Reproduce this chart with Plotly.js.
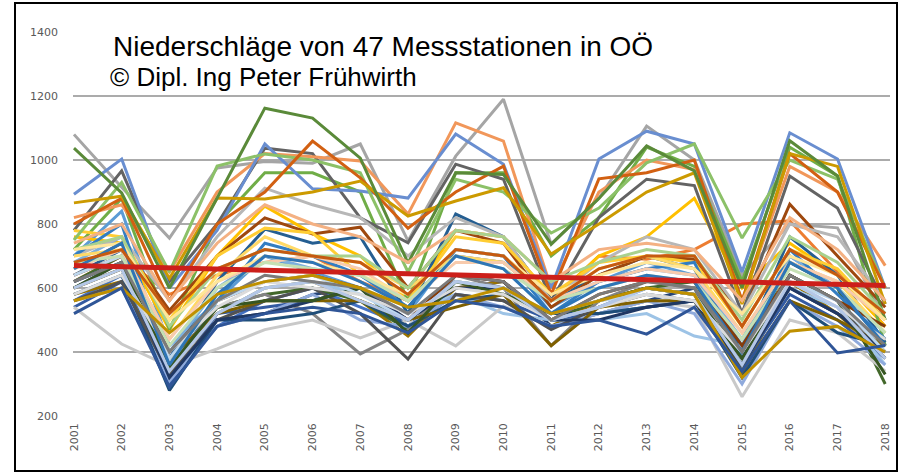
<!DOCTYPE html>
<html>
<head>
<meta charset="utf-8">
<script src="https://cdn.plot.ly/plotly-3.0.1.min.js"></script>
<style>
  html, body { margin: 0; padding: 0; background: #fff; }
  #chart { width: 900px; height: 476px; }
</style>
</head>
<body>
<div id="chart"></div>
<script>
// ---- Data ----
const years = ['2001','2002','2003','2004','2005','2006','2007','2008','2009','2010','2011','2012','2013','2014','2015','2016','2017','2018'];

const titleLine1 = 'Niederschläge von 47 Messstationen in OÖ';
const titleLine2 = '© Dipl. Ing Peter Frühwirth';

const yTicks = [200, 400, 600, 800, 1000, 1200, 1400];

const s01 = [700, 840, 420, 560, 700, 650, 600, 520, 720, 700, 540, 620, 680, 640, 420, 700, 600, 420];
const s02 = [620, 700, 580, 640, 680, 700, 620, 560, 700, 680, 560, 700, 690, 720, 800, 810, 650, 480];
const s03 = [1080, 915, 756, 975, 995, 990, 1050, 747, 1012, 1190, 737, 880, 1106, 1000, 640, 800, 788, 500];
const s04 = [760, 740, 470, 700, 856, 770, 700, 560, 780, 760, 560, 700, 760, 880, 600, 740, 640, 480];
const s05 = [560, 640, 330, 480, 560, 600, 540, 480, 600, 620, 500, 540, 600, 580, 380, 600, 520, 400];
const s06 = [720, 880, 470, 800, 960, 960, 900, 560, 960, 960, 700, 820, 1040, 980, 620, 1040, 950, 420];
const s07 = [640, 720, 380, 620, 784, 740, 760, 520, 831, 760, 560, 640, 700, 660, 400, 760, 640, 430];
const s08 = [660, 740, 530, 700, 819, 769, 790, 600, 780, 740, 540, 640, 700, 690, 520, 862, 700, 540];
const s09 = [780, 966, 620, 800, 1037, 1020, 819, 741, 987, 940, 560, 820, 940, 920, 520, 950, 850, 550];
const s10 = [580, 620, 340, 520, 600, 620, 560, 450, 600, 620, 480, 560, 600, 580, 330, 620, 520, 380];
const s11 = [600, 680, 300, 500, 520, 580, 600, 460, 640, 620, 480, 520, 560, 600, 340, 640, 560, 400];
const s12 = [620, 700, 360, 540, 580, 600, 560, 470, 620, 600, 500, 560, 600, 620, 380, 680, 600, 300];
const s13 = [680, 760, 400, 600, 700, 660, 640, 560, 700, 680, 560, 620, 660, 640, 440, 700, 600, 460];
const s14 = [820, 860, 650, 900, 1020, 1010, 997, 831, 1116, 1059, 600, 900, 1000, 970, 560, 980, 900, 670];
const s15 = [700, 760, 560, 760, 912, 860, 820, 700, 820, 760, 560, 680, 760, 720, 520, 800, 760, 560];
const s16 = [780, 760, 500, 700, 787, 772, 640, 560, 760, 740, 580, 680, 700, 680, 480, 720, 660, 500];
const s17 = [893, 1003, 600, 780, 1050, 910, 903, 881, 1081, 987, 600, 1003, 1090, 1050, 650, 1085, 1003, 600];
const s18 = [750, 930, 650, 981, 1019, 1000, 960, 650, 940, 900, 772, 850, 991, 1050, 756, 1000, 940, 600];
const s19 = [700, 800, 340, 560, 740, 700, 640, 540, 720, 700, 520, 620, 660, 680, 380, 720, 580, 440];
const s20 = [800, 880, 560, 800, 900, 1059, 944, 787, 900, 981, 580, 941, 960, 1000, 560, 1020, 900, 600];
const s21 = [600, 660, 360, 540, 580, 520, 394, 470, 640, 600, 420, 560, 620, 600, 360, 640, 560, 380];
const s22 = [866, 887, 630, 881, 878, 900, 934, 825, 872, 913, 706, 800, 900, 960, 550, 1020, 980, 550];
const s23 = [540, 620, 300, 520, 540, 560, 600, 480, 580, 560, 500, 520, 540, 560, 360, 580, 500, 380];
const s24 = [1037, 897, 600, 880, 1162, 1131, 1006, 678, 960, 955, 737, 880, 1044, 966, 600, 1060, 950, 500];
const s25 = [620, 680, 360, 520, 600, 620, 580, 520, 580, 520, 500, 500, 520, 450, 420, 600, 540, 360];
const s26 = [740, 800, 560, 740, 860, 800, 760, 680, 780, 760, 620, 720, 740, 720, 560, 820, 720, 560];
const s27 = [540, 425, 355, 410, 470, 500, 444, 500, 419, 544, 480, 520, 560, 540, 260, 500, 460, 340];
const s28 = [700, 720, 440, 640, 760, 700, 680, 600, 700, 680, 560, 660, 700, 660, 460, 680, 620, 460];
const s29 = [560, 600, 310, 480, 520, 580, 500, 480, 580, 540, 480, 520, 560, 520, 300, 560, 480, 360];
const s30 = [720, 760, 480, 660, 720, 700, 700, 600, 780, 760, 620, 680, 720, 700, 500, 760, 680, 520];
const s31 = [580, 640, 280, 500, 500, 520, 560, 480, 560, 580, 520, 520, 540, 560, 320, 560, 460, 420];
const s32 = [640, 700, 400, 560, 620, 640, 600, 500, 640, 620, 500, 580, 620, 620, 420, 640, 560, 480];
const s33 = [560, 620, 330, 500, 560, 600, 520, 378, 580, 560, 470, 540, 580, 560, 360, 600, 520, 440];
const s34 = [600, 660, 380, 520, 560, 560, 560, 500, 540, 580, 420, 540, 560, 560, 340, 560, 500, 420];
const s35 = [620, 680, 320, 500, 520, 560, 600, 500, 600, 600, 500, 500, 540, 560, 360, 600, 520, 400];
const s36 = [600, 680, 350, 540, 560, 560, 600, 460, 620, 580, 520, 560, 600, 580, 380, 640, 560, 330];
const s37 = [640, 700, 380, 560, 620, 640, 580, 500, 620, 600, 520, 560, 580, 560, 400, 620, 560, 400];
const s38 = [660, 720, 440, 620, 680, 700, 660, 560, 680, 680, 560, 620, 660, 640, 460, 680, 620, 500];
const s39 = [580, 640, 400, 540, 620, 600, 580, 520, 600, 580, 500, 540, 580, 560, 400, 620, 540, 440];
const s40 = [720, 740, 500, 620, 700, 680, 640, 580, 720, 700, 580, 640, 680, 660, 520, 700, 640, 500];
const s41 = [600, 660, 340, 520, 600, 620, 560, 500, 620, 600, 500, 540, 600, 580, 360, 620, 540, 380];
const s42 = [680, 700, 420, 600, 680, 660, 640, 560, 700, 660, 560, 600, 640, 620, 440, 660, 600, 460];
const s43 = [660, 740, 360, 580, 700, 680, 620, 540, 700, 660, 520, 600, 640, 620, 400, 680, 600, 420];
const s44 = [680, 720, 520, 660, 720, 700, 680, 580, 720, 700, 560, 660, 700, 700, 480, 720, 640, 520];
const s45 = [620, 680, 400, 560, 640, 620, 600, 520, 640, 620, 500, 580, 620, 600, 400, 640, 560, 420];
const s46 = [560, 600, 460, 580, 620, 640, 600, 540, 560, 600, 520, 560, 600, 580, 320, 465, 480, 400];
const s47 = [520, 600, 290, 480, 520, 540, 520, 460, 560, 540, 480, 500, 456, 540, 340, 560, 397, 420];

const stations = [s01,s02,s03,s04,s05,s06,s07,s08,s09,s10,s11,s12,s13,s14,s15,s16,s17,s18,s19,s20,
                  s21,s22,s23,s24,s25,s26,s27,s28,s29,s30,s31,s32,s33,s34,s35,s36,s37,s38,s39,s40,
                  s41,s42,s43,s44,s45,s46,s47];

const stationColors = ['#5B9BD5','#ED7D31','#A5A5A5','#FFC000','#4472C4','#70AD47','#255E91','#9E480E','#636363','#997300',
                       '#264478','#43682B','#7CAFDD','#F1975A','#B7B7B7','#FFCD33','#698ED0','#8CC168','#327DC2','#D26012',
                       '#848484','#CC9A00','#335AA1','#5A8A39','#9DC3E6','#F4B183','#C9C9C9','#FFD966','#8FAADC','#A9D18E',
                       '#1F4E79','#843C0C','#525252','#7F6000','#203864','#375623','#BDD7EE','#F8CBAD','#DBDBDB','#FFE699',
                       '#B4C7E7','#C5E0B4','#2E75B6','#C55A11','#7B7B7B','#BF9000','#2F5597'];

const trendYears = ['2001', '2018'];
const trendValues = [670, 608];

// ---- Layout geometry ----
const W = 900, H = 476;
const M = { l: 73, r: 10, t: 32, b: 60 };
const plotW = W - M.l - M.r, plotH = H - M.t - M.b;
const px2x = px => (px - M.l) / plotW;
const px2y = py => 1 - (py - M.t) / plotH;

const traces = stations.map((vals, i) => ({
  type: 'scatter', mode: 'lines',
  x: years, y: vals,
  name: 'Station ' + (i + 1),
  line: { color: stationColors[i], width: 3 },
  hoverinfo: 'skip'
}));
traces.push({
  type: 'scatter', mode: 'lines',
  x: trendYears, y: trendValues,
  name: 'Trend',
  line: { color: '#CC1F1A', width: 5 },
  hoverinfo: 'skip'
});

const tickFont = { family: 'DejaVu Sans, sans-serif', size: 11, color: '#595959' };

const layout = {
  width: W, height: H,
  margin: M,
  paper_bgcolor: '#fff', plot_bgcolor: '#fff',
  showlegend: false,
  hovermode: false,
  xaxis: {
    type: 'category',
    categoryorder: 'array', categoryarray: years,
    range: [-0.02, 17.1],
    showgrid: false, zeroline: false, showline: false,
    ticks: '', tickangle: -90,
    tickfont: tickFont,
    ticklabelstandoff: 4
  },
  yaxis: {
    range: [200, 1400],
    tickvals: yTicks,
    showgrid: true, gridcolor: '#ABABAB', gridwidth: 1.5,
    zeroline: false, showline: false,
    ticks: '',
    tickfont: tickFont,
    ticklabelstandoff: 14
  },
  annotations: [
    { xref: 'paper', yref: 'paper', x: px2x(111), y: px2y(46), xanchor: 'left', yanchor: 'middle',
      text: titleLine1, showarrow: false,
      font: { family: 'Liberation Sans, Arial, sans-serif', size: 28, color: '#000' } },
    { xref: 'paper', yref: 'paper', x: px2x(108), y: px2y(77), xanchor: 'left', yanchor: 'middle',
      text: titleLine2, showarrow: false,
      font: { family: 'Liberation Sans, Arial, sans-serif', size: 26, color: '#000' } }
  ],
  shapes: [
    { type: 'rect', xref: 'paper', yref: 'paper',
      x0: px2x(15), x1: px2x(897), y0: px2y(471), y1: px2y(3),
      line: { color: '#000', width: 2 }, fillcolor: 'rgba(0,0,0,0)', layer: 'above' }
  ]
};

Plotly.newPlot('chart', traces, layout, { staticPlot: true, displayModeBar: false });
</script>
</body>
</html>
